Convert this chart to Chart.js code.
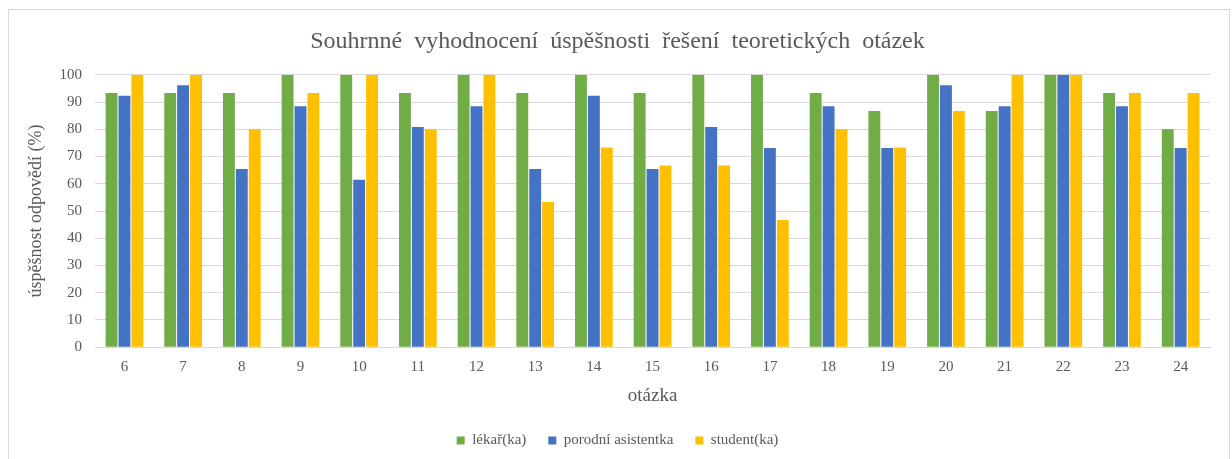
<!DOCTYPE html>
<html>
<head>
<meta charset="utf-8">
<script src="https://cdn.jsdelivr.net/npm/chart.js@4.4.1/dist/chart.umd.min.js"></script>
<style>
  html, body { margin: 0; padding: 0; background: #fff; }
  #frame {
    position: absolute; left: 8px; top: 9px; width: 1222px; height: 460px;
    border: 1px solid #d9d9d9; box-sizing: border-box;
  }
  #chart { display: block; }
</style>
</head>
<body>
<div id="frame"><canvas id="chart" width="1220" height="458"></canvas></div>
<script>
const questions = ["6", "7", "8", "9", "10", "11", "12", "13", "14", "15", "16", "17", "18", "19", "20", "21", "22", "23", "24"];
const lekar = [93.3, 93.3, 93.3, 100, 100, 93.3, 100, 93.3, 100, 93.3, 100, 100, 93.3, 86.7, 100, 86.7, 100, 93.3, 80];
const asistentka = [92.3, 96.2, 65.4, 88.5, 61.5, 80.8, 88.5, 65.4, 92.3, 65.4, 80.8, 73.1, 88.5, 73.1, 96.2, 88.5, 100, 88.5, 73.1];
const student = [100, 100, 80, 93.3, 100, 80, 100, 53.3, 73.3, 66.7, 66.7, 46.7, 80, 73.3, 86.7, 100, 100, 93.3, 93.3];

const SERIF = "'Liberation Serif', 'DejaVu Serif', serif";
const TXT = "#595959";
// word gaps in the original title are wide
const titleText = "Souhrnné vyhodnocení úspěšnosti řešení teoretických otázek".split(" ").join("  ");

new Chart(document.getElementById("chart"), {
  type: "bar",
  data: {
    labels: questions,
    datasets: [
      { label: "lékař(ka)", data: lekar, backgroundColor: "#70ad47" },
      { label: "porodní asistentka", data: asistentka, backgroundColor: "#4472c4" },
      { label: "student(ka)", data: student, backgroundColor: "#ffc000" },
    ],
  },
  options: {
    responsive: false,
    animation: false,
    datasets: { bar: { categoryPercentage: 0.66, barPercentage: 0.92 } },
    layout: { padding: { left: 16, right: 19, top: 11, bottom: 10 } },
    plugins: {
      title: {
        display: true,
        text: titleText,
        color: TXT,
        font: { family: SERIF, size: 24, weight: "normal" },
        padding: { top: 6, bottom: 19 },
      },
      legend: {
        position: "bottom",
        labels: {
          color: TXT,
          font: { family: SERIF, size: 15 },
          boxWidth: 8, boxHeight: 8, padding: 22,
        },
      },
      tooltip: { enabled: false },
    },
    scales: {
      x: {
        grid: { display: false },
        border: { color: "#d9d9d9" },
        ticks: { color: TXT, font: { family: SERIF, size: 15 }, padding: 3 },
        title: { display: true, text: "otázka", color: TXT, font: { family: SERIF, size: 19 }, padding: { top: 5, bottom: 4 } },
      },
      y: {
        min: 0, max: 100,
        ticks: { stepSize: 10, color: TXT, font: { family: SERIF, size: 15 }, padding: 13 },
        grid: { color: "#d9d9d9", drawTicks: false },
        border: { display: false },
        title: { display: true, text: "úspěšnost odpovědí (%)", color: TXT, font: { family: SERIF, size: 18 }, padding: { top: 0, bottom: 0 } },
      },
    },
  },
});
</script>
</body>
</html>
